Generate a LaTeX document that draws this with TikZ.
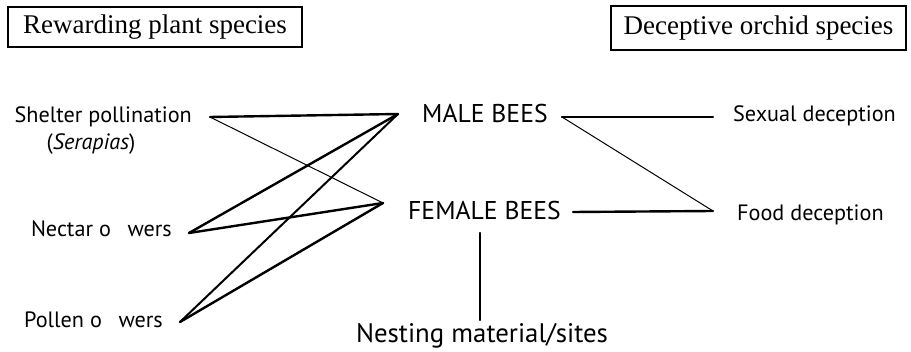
\documentclass[tikz,border=0pt]{standalone}
\usepackage{fontspec}
\setmainfont{Liberation Serif}
\newfontfamily\labfont{PT Sans}
\begin{document}
\begin{tikzpicture}[x=1pt,y=-1pt,
  hdr/.style={draw,line width=2pt,inner sep=0pt,font=\fontsize{27}{30}\selectfont},
  lab/.style={inner sep=0pt,font=\labfont\fontsize{22.2}{25}\selectfont},
  big/.style={inner sep=0pt,font=\labfont\fontsize{25.7}{29}\selectfont},
  thick link/.style={line width=2.4pt,line cap=round,line join=round},
  thin link/.style={line width=1pt,line cap=round}]
\useasboundingbox (0,0) rectangle (911,352);
% header boxes
\node[hdr,minimum width=294pt,minimum height=40pt] (rew) at (155,27) {Rewarding plant species};
\node[hdr,minimum width=295pt,minimum height=44pt] (dec) at (758.5,28) {Deceptive orchid species};
% left labels
\node[lab,anchor=base east] (shel) at (192,123) {Shelter pollination};
\node[lab,anchor=base] (ser) at (91,150) {(\textit{Serapias})};
\node[lab,anchor=base east] (nect) at (172,237) {Nectar o\hspace{0.75em}wers};
\node[lab,anchor=base east] (poll) at (163,328) {Pollen o\hspace{0.75em}wers};
% bees
\node[big,anchor=base west] (male) at (422,123) {MALE BEES};
\node[big,anchor=base west] (fem) at (408,220) {FEMALE BEES};
\node[big,anchor=base,font=\labfont\fontsize{26.8}{30}\selectfont] (nest) at (482,343) {Nesting material/sites};
% right labels
\node[lab,anchor=base west] (sex) at (733,122) {Sexual deception};
\node[lab,anchor=base west] (food) at (737,221) {Food deception};
% connector ends
\coordinate (shelR) at (210,117);
\coordinate (nectR) at (189,233);
\coordinate (pollR) at (180,322);
\coordinate (maleL) at (398,114);
\coordinate (maleR) at (562,117);
\coordinate (femL) at (383,203);
\coordinate (femR) at (573,212);
\coordinate (femB) at (480,233);
\coordinate (nestT) at (480,320);
\coordinate (sexL) at (713,117);
\coordinate (foodL) at (713,211);
% connectors
\draw[thick link] (shelR) -- (maleL);
\draw[thin link] (shelR) -- (femL);
\draw[thick link] (nectR) -- (maleL);
\draw[thick link] (nectR) -- (femL);
\draw[line width=2pt,line cap=round] (pollR) -- (maleL);
\draw[thick link] (pollR) -- (femL);
\draw[thick link] (maleR) -- (sexL);
\draw[thin link] (maleR) -- (foodL);
\draw[thick link] (femR) -- (foodL);
\draw[thick link] (femB) -- (nestT);
\end{tikzpicture}
\end{document}
